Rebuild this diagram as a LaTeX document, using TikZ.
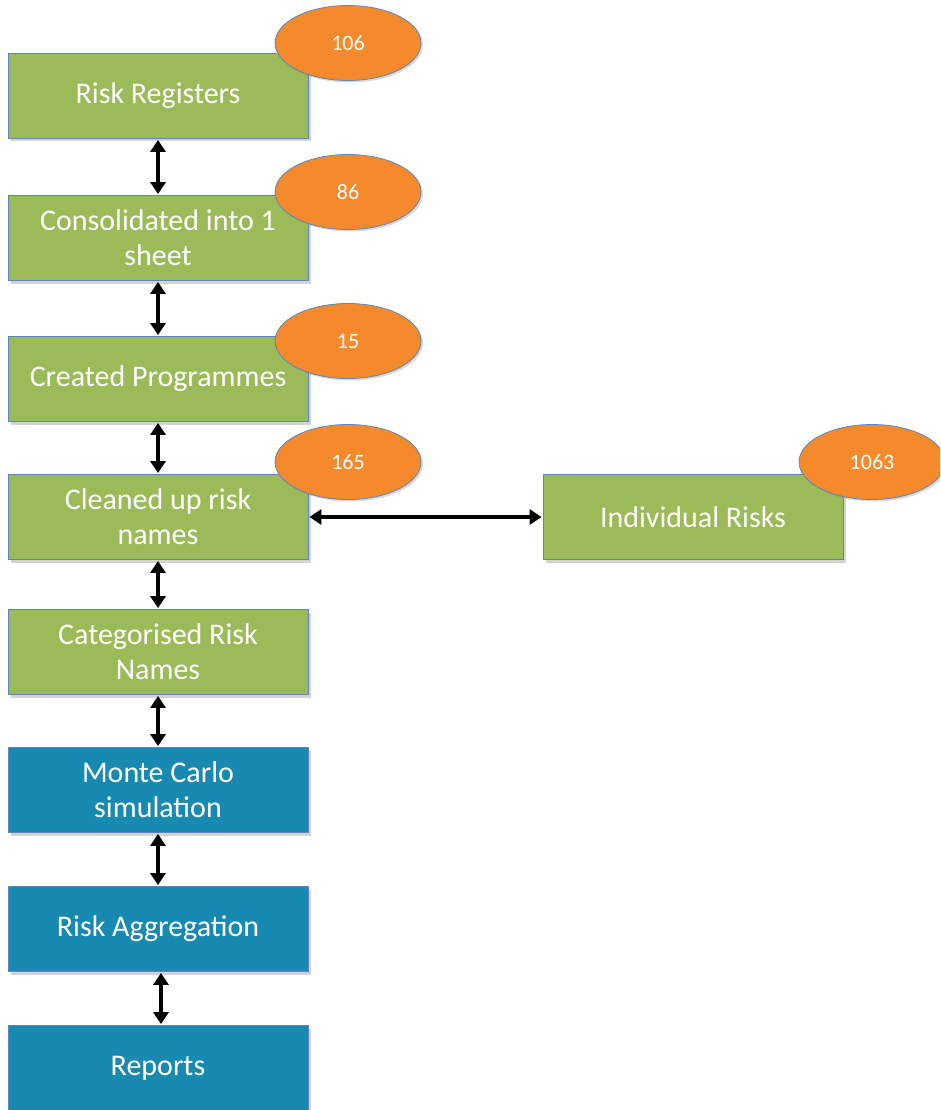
\documentclass[tikz,border=0pt]{standalone}
\usepackage{fontspec}
\setmainfont{Carlito}
\usetikzlibrary{arrows.meta,shadows,shapes.geometric}
\definecolor{stepgreen}{HTML}{9BBB59}
\definecolor{stepblue}{HTML}{1889B0}
\definecolor{badgeorange}{HTML}{F58A2C}
\definecolor{edgeblue}{HTML}{5B86BF}
\tikzset{
  box/.style={rectangle, draw=edgeblue, line width=0.8pt, minimum width=300pt,
    minimum height=85pt, text=white, align=center, inner sep=0pt,
    font=\fontsize{30}{35}\selectfont,
    drop shadow={shadow xshift=3pt, shadow yshift=-3pt, opacity=0.35}},
  greenbox/.style={box, fill=stepgreen},
  bluebox/.style={box, fill=stepblue},
  badge/.style={ellipse, draw=edgeblue, line width=0.8pt, fill=badgeorange,
    minimum width=146pt, minimum height=75pt, inner sep=0pt, text=white,
    font=\fontsize{22}{26}\selectfont,
    drop shadow={shadow xshift=2pt, shadow yshift=-2pt, opacity=0.3}},
  link/.style={{Triangle[width=15pt,length=12pt]}-{Triangle[width=15pt,length=12pt]},
    line width=4pt, black, shorten <=1pt, shorten >=1pt}
}
\begin{document}
\begin{tikzpicture}[x=1pt,y=-1pt]
\useasboundingbox (0,0) rectangle (940,1110);
\clip (0,0) rectangle (940,1110);
% main flow
\node[greenbox] (reg)  at (158,96)  {Risk Registers};
\node[greenbox] (cons) at (158,238) {Consolidated into 1\\sheet};
\node[greenbox] (prog) at (158,379) {Created Programmes};
\node[greenbox] (clean) at (158,517) {Cleaned up risk\\names};
\node[greenbox] (cat)  at (158,652) {Categorised Risk\\Names};
\node[bluebox]  (mc)   at (158,790) {Monte Carlo\\simulation};
\node[bluebox]  (agg)  at (158,929) {Risk Aggregation};
\node[bluebox]  (rep)  at (158,1068) {Reports};
% side branch
\node[greenbox] (ind)  at (693,517) {Individual Risks};
% counts
\node[badge] (n106)  at (348,43)  {106};
\node[badge] (n86)   at (348,192) {86};
\node[badge] (n15)   at (348,341) {15};
\node[badge] (n165)  at (348,462) {165};
\node[badge] (n1063) at (872,462) {1063};
% connectors
\draw[link] (reg.south) -- (cons.north);
\draw[link] (cons.south) -- (prog.north);
\draw[link] (prog.south) -- (clean.north);
\draw[link] (clean.south) -- (cat.north);
\draw[link] (cat.south) -- (mc.north);
\draw[link] (mc.south) -- (agg.north);
\draw[link] ([xshift=3pt]agg.south) -- ([xshift=3pt]rep.north);
\draw[link] (clean.east) -- (ind.west);
\end{tikzpicture}
\end{document}
